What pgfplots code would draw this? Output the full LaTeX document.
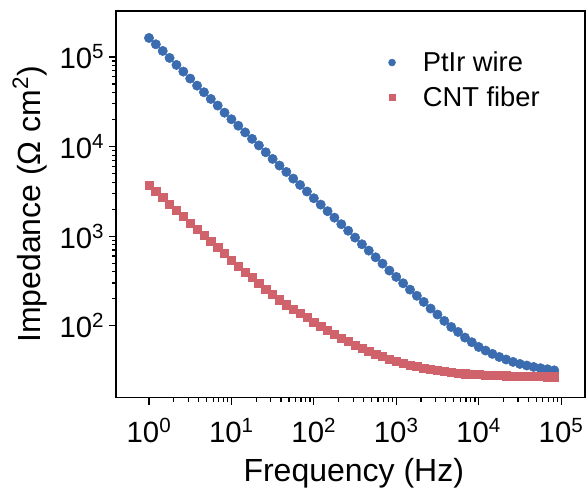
\documentclass[border=0pt]{standalone}
\usepackage{fontspec}
\setmainfont{Liberation Sans}
\usepackage{pgfplots}
\usepackage{pgfplotstable}
\pgfplotsset{compat=1.18}
\definecolor{ptblue}{RGB}{59,108,176}
\definecolor{cntred}{RGB}{208,98,108}
\pgfplotstableread{
f ptir cnt
1 163000 3700
1.2115 138600 3200
1.4678 116800 2695
1.7783 97600 2290
2.1544 81500 1962
2.6102 68700 1653
3.1623 57400 1405
3.8312 47900 1194
4.6416 40400 1023
5.6234 34000 870
6.8129 28700 745
8.254 23900 639
10 20200 543
12.115 17100 465
14.678 14400 399
17.783 12200 345
21.544 10300 296
26.102 8640 256
31.623 7280 225
38.312 6140 195
46.416 5210 171
56.234 4390 152
68.129 3730 137.5
82.54 3150 123.4
100 2650 110.4
121.15 2250 98.7
146.78 1900 89.1
177.83 1610 80.4
215.44 1360 73.1
261.02 1150 66.6
316.23 964 61.1
383.12 812 56.1
464.16 690 51.9
562.34 581 48.5
681.29 494 45.3
825.4 413 42.3
1000 351 39.8
1211.5 298 38.1
1467.8 253 36.5
1778.3 216 35.0
2154.4 184.5 33.8
2610.2 155.6 32.7
3162.3 133.4 31.7
3831.2 113.2 30.9
4641.6 97.0 30.3
5623.4 85.3 29.7
6812.9 73.8 29.2
8254 65.5 28.8
10000 58.0 28.5
12115 52.9 28.2
14678 48.5 28.0
17783 44.8 27.8
21544 42.0 27.6
26102 39.5 27.5
31623 37.5 27.4
38312 36.0 27.3
46416 34.7 27.2
56234 33.6 27.1
68129 32.7 27.0
82540 31.8 26.9
}\datatable
\begin{document}
\begin{tikzpicture}
\begin{axis}[name=ax,
  scale only axis, width=351.75pt, height=289.9pt,
  xmode=log, ymode=log,
  xmin=0.398, xmax=1.95e5, ymin=15.8, ymax=3.26e5,
  xtick={1,10,100,1000,10000,100000},
  xticklabels={10\textsuperscript{0},10\textsuperscript{1},10\textsuperscript{2},10\textsuperscript{3},10\textsuperscript{4},10\textsuperscript{5}},
  ytick={100,1000,10000,100000},
  yticklabels={10\textsuperscript{2},10\textsuperscript{3},10\textsuperscript{4},10\textsuperscript{5}},
  tick pos=left, tick align=outside,
  major tick length=5.25pt, minor tick length=3pt,
  every tick/.style={black, line width=0.9pt},
  axis line style={line width=1pt},
  tick label style={font=\fontsize{22}{22}\selectfont},
  xticklabel style={yshift=-7pt},
  label style={font=\fontsize{24}{24}\selectfont},
  xlabel={Frequency (Hz)},
  ylabel={Impedance (Ω cm\textsuperscript{2})},
  xlabel style={at={(axis description cs:0.507,-0.195)}, anchor=center},
  ylabel style={at={(axis description cs:-0.184,0.5)}, anchor=center},
  legend style={at={(axis description cs:0.5806,0.899)}, anchor=north west,
    draw=none, fill=none, inner sep=0pt, column sep=19.5pt, row sep=8pt,
    nodes={inner sep=1pt}, font=\fontsize{20.5}{20.5}\selectfont},
  legend cell align=left,
  legend image code/.code={\draw[#1] plot coordinates {(0cm,0cm)};},
]
\addplot[only marks, mark=*, mark size=3.5pt, color=ptblue, forget plot] table[x=f,y=ptir]{\datatable};
\addplot[only marks, mark=square*, mark size=3.1pt, color=cntred, forget plot] table[x=f,y=cnt]{\datatable};
\addlegendimage{only marks, mark=*, mark size=2.6pt, color=ptblue}
\addlegendentry{PtIr wire}
\addlegendimage{only marks, mark=square*, mark size=2.2pt, color=cntred}
\addlegendentry{CNT fiber}
\end{axis}
\pgfresetboundingbox
\path ([shift={(-87pt,-73.1pt)}]ax.south west) rectangle ([shift={(2.25pt,8.25pt)}]ax.north east);
\end{tikzpicture}
\end{document}
